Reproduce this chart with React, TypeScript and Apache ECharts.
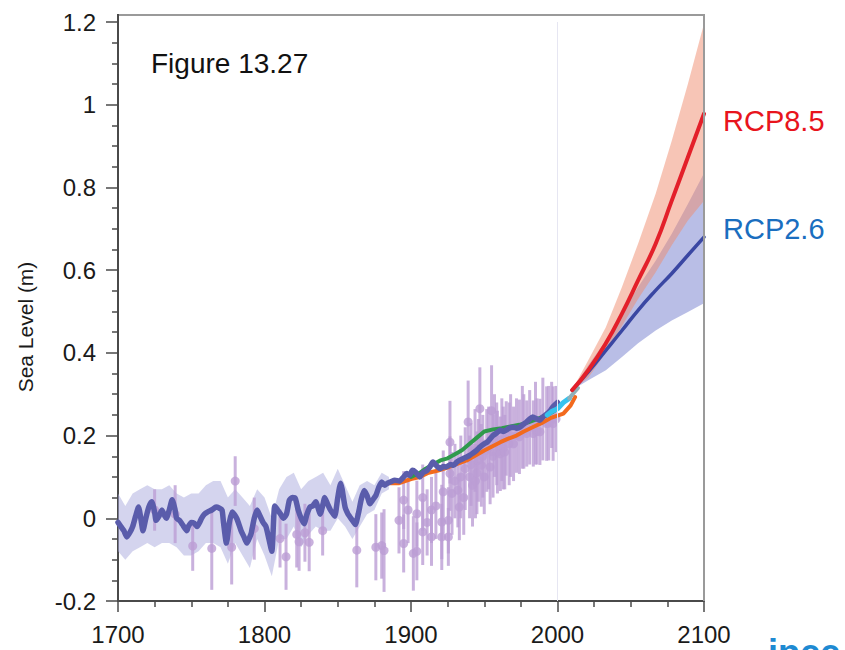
import React, { useEffect, useRef } from "react";
import * as echarts from "echarts";

// ---------- axes ----------
const xMin = 1700;
const xMax = 2100;
const xStep = 100;
const yMin = -0.2;
const yMax = 1.2;
const yStep = 0.2;

// ---------- reconstructed sea level (thick blue-purple line) ----------
const reconYears = [
  1700, 1702, 1704, 1706, 1708, 1710, 1712, 1714, 1716, 1717, 1719, 1721, 1723, 1725, 1726, 1728, 1730, 1732,
  1733, 1735, 1737, 1739, 1740, 1742, 1744, 1747, 1748, 1750, 1752, 1754, 1756, 1757, 1759, 1761, 1764, 1767,
  1769, 1771, 1772, 1774, 1776, 1778, 1781, 1784, 1786, 1788, 1790, 1791, 1793, 1795, 1797, 1799, 1801, 1803,
  1805, 1807, 1809, 1811, 1813, 1815, 1817, 1819, 1821, 1823, 1825, 1827, 1829, 1831, 1833, 1835, 1837, 1838,
  1840, 1841, 1843, 1845, 1847, 1848, 1850, 1852, 1853, 1855, 1857, 1858, 1860, 1862, 1864, 1866, 1868, 1870,
  1872, 1874, 1876, 1878, 1880, 1882, 1884, 1886, 1889, 1892, 1895, 1897, 1899, 1901, 1903, 1906, 1908, 1911,
  1913, 1915, 1918, 1920, 1922, 1924, 1927, 1929, 1931, 1933, 1936, 1938, 1940, 1942, 1945, 1947, 1950, 1952,
  1954, 1956, 1958, 1961, 1963, 1965, 1967, 1970, 1972, 1974, 1977, 1979, 1981, 1983, 1986, 1988, 1990, 1993,
  1995, 1997, 2000,
];
const reconValues = [
  -0.01, -0.02, -0.03, -0.045, -0.035, -0.02, 0.005, 0.027, -0.01, -0.03, 0.0, 0.027, 0.04, 0.015, -0.005, 0.005, 0.02, 0.005,
  0.0, 0.02, 0.045, 0.02, 0.0, -0.005, -0.015, -0.03, -0.02, -0.01, -0.012, -0.02, -0.008, 0.0, 0.01, 0.015, 0.02, 0.027,
  0.025, 0.02, -0.01, -0.06, -0.01, 0.015, 0.0, -0.03, -0.045, -0.06, -0.045, -0.035, 0.0, 0.02, 0.005, -0.01, -0.02, -0.05,
  -0.08, 0.03, 0.02, 0.01, 0.0, 0.01, 0.044, 0.05, 0.048, 0.02, 0.0, -0.013, 0.01, 0.027, 0.03, 0.04, 0.02, 0.01,
  0.035, 0.05, 0.035, 0.02, 0.01, 0.005, 0.05, 0.085, 0.07, 0.027, 0.01, 0.005, -0.005, -0.015, 0.01, 0.045, 0.067, 0.055,
  0.035, 0.045, 0.055, 0.075, 0.088, 0.08, 0.085, 0.088, 0.092, 0.09, 0.1, 0.108, 0.104, 0.116, 0.112, 0.1, 0.11, 0.116,
  0.125, 0.136, 0.125, 0.12, 0.125, 0.124, 0.13, 0.128, 0.135, 0.14, 0.145, 0.148, 0.152, 0.157, 0.165, 0.172, 0.18, 0.184,
  0.192, 0.2, 0.205, 0.213, 0.21, 0.213, 0.218, 0.22, 0.218, 0.22, 0.228, 0.233, 0.24, 0.245, 0.24, 0.237, 0.245, 0.253,
  0.26, 0.27, 0.28,
];

// uncertainty band of the reconstruction
const bandYears = [
  1700, 1705, 1710, 1715, 1720, 1725, 1730, 1735, 1740, 1745, 1750, 1755, 1760, 1765, 1770, 1775, 1780, 1785, 1790,
  1795, 1800, 1805, 1810, 1815, 1820, 1825, 1830, 1835, 1840, 1845, 1850, 1855, 1860, 1865, 1870, 1875, 1880, 1885,
];
const bandLower = [
  -0.08, -0.1, -0.08, -0.07, -0.06, -0.07, -0.06, -0.06, -0.07, -0.09, -0.09, -0.08, -0.06, -0.06, -0.07, -0.11, -0.06, -0.09, -0.12,
  -0.05, -0.09, -0.14, -0.05, -0.05, -0.02, -0.07, -0.04, -0.02, -0.03, -0.03, 0.0, -0.02, -0.05, -0.02, 0.01, 0.02, 0.06, 0.07,
];
const bandUpper = [
  0.06, 0.03, 0.06, 0.07, 0.08, 0.07, 0.07, 0.08, 0.06, 0.05, 0.06, 0.06, 0.08, 0.09, 0.09, 0.05, 0.07, 0.05, 0.03,
  0.07, 0.05, 0.0, 0.07, 0.1, 0.11, 0.07, 0.09, 0.1, 0.11, 0.08, 0.12, 0.08, 0.04, 0.08, 0.09, 0.08, 0.11, 0.1,
];

// other records
const orangeYears = [1880, 1885, 1892, 1900, 1906, 1912, 1918, 1926, 1932, 1938, 1944, 1950, 1956, 1961, 1966, 1972, 1977, 1983, 1989, 1995, 2000, 2004, 2009, 2012];
const orangeValues = [0.08, 0.085, 0.085, 0.095, 0.1, 0.11, 0.115, 0.124, 0.132, 0.14, 0.152, 0.164, 0.175, 0.184, 0.192, 0.2, 0.21, 0.22, 0.23, 0.242, 0.248, 0.253, 0.273, 0.293];

const greenYears = [1900, 1906, 1910, 1915, 1920, 1925, 1930, 1935, 1940, 1945, 1950, 1956, 1962, 1968, 1974, 1980, 1986, 1992, 1998];
const greenValues = [0.1, 0.11, 0.12, 0.13, 0.14, 0.145, 0.155, 0.165, 0.18, 0.195, 0.21, 0.215, 0.218, 0.222, 0.226, 0.232, 0.24, 0.248, 0.26];

const cyanYears = [1993, 1996, 2000, 2004, 2008];
const cyanValues = [0.25, 0.258, 0.265, 0.28, 0.29];

const linkYears = [2008, 2011, 2014];
const linkValues = [0.29, 0.303, 0.315];

// individual data points with error bars
const obsYears = [
  1725, 1739, 1751, 1764, 1777.6, 1780, 1793, 1810.6, 1814.7, 1822, 1823.6, 1827.6, 1830.5, 1839.7, 1863, 1876, 1880,
  1881.6, 1891.8, 1895, 1895, 1898, 1901.6, 1904, 1904, 1908, 1908, 1911, 1914, 1914, 1917, 1921, 1921, 1922, 1925.5, 1925.5,
  1926.6, 1926.6, 1928, 1930, 1932, 1933, 1934, 1936, 1937, 1939, 1940, 1941, 1942, 1943.7, 1944, 1945, 1946, 1947, 1948,
  1949, 1950, 1951.7, 1953, 1954, 1955, 1956, 1957, 1958.5, 1959, 1961, 1962, 1963, 1964, 1965, 1967, 1968, 1970, 1972,
  1974, 1976, 1977, 1979, 1981, 1983.5, 1985, 1986, 1988, 1990, 1992.6, 1994, 1996, 1997, 1999,
];
const obsValues = [
  0.02, 0.01, -0.067, -0.073, -0.07, 0.09, -0.025, -0.049, -0.093, -0.039, -0.057, -0.035, -0.058, -0.03, -0.077, -0.07, -0.066,
  -0.078, -0.005, 0.044, -0.061, 0.02, -0.085, 0.011, -0.08, -0.033, 0.05, -0.01, 0.02, -0.045, 0.03, -0.009, -0.045, 0.064, -0.005, -0.045,
  0.184, 0.108, 0.06, 0.09, 0.068, 0.027, 0.1, 0.05, 0.12, 0.233, 0.1, 0.13, 0.08, 0.164, 0.09, 0.11, 0.14, 0.265, 0.128,
  0.15, 0.1, 0.164, 0.17, 0.124, 0.26, 0.15, 0.2, 0.18, 0.16, 0.156, 0.19, 0.17, 0.16, 0.193, 0.18, 0.2, 0.18, 0.2,
  0.197, 0.22, 0.21, 0.205, 0.22, 0.205, 0.23, 0.21, 0.209, 0.24, 0.229, 0.23, 0.25, 0.229, 0.24,
];
const obsErrors = [
  0.05, 0.07, 0.06, 0.1, 0.09, 0.06, 0.075, 0.07, 0.08, 0.08, 0.07, 0.07, 0.07, 0.06, 0.09, 0.08, 0.08,
  0.1, 0.08, 0.07, 0.07, 0.08, 0.09, 0.08, 0.07, 0.08, 0.08, 0.08, 0.08, 0.07, 0.08, 0.09, 0.08, 0.1, 0.08, 0.07,
  0.1, 0.09, 0.1, 0.09, 0.09, 0.08, 0.1, 0.09, 0.1, 0.1, 0.1, 0.1, 0.1, 0.1, 0.09, 0.1, 0.1, 0.1, 0.1,
  0.1, 0.09, 0.1, 0.1, 0.09, 0.11, 0.1, 0.1, 0.1, 0.1, 0.09, 0.1, 0.1, 0.09, 0.09, 0.1, 0.1, 0.09, 0.09,
  0.09, 0.1, 0.09, 0.08, 0.09, 0.08, 0.1, 0.08, 0.08, 0.1, 0.09, 0.09, 0.08, 0.09, 0.08,
];

// projections
const projYears = [2010, 2021, 2033, 2044, 2055, 2067, 2078, 2089, 2100];
const rcp85Median = [0.31, 0.358, 0.423, 0.495, 0.575, 0.664, 0.768, 0.873, 0.978];
const rcp85Upper = [0.31, 0.382, 0.462, 0.559, 0.664, 0.785, 0.913, 1.05, 1.196];
const rcp85Lower = [0.31, 0.34, 0.4, 0.465, 0.53, 0.595, 0.66, 0.72, 0.768];
const rcp26Median = [0.31, 0.354, 0.406, 0.454, 0.503, 0.551, 0.592, 0.636, 0.68];
const rcp26Upper = [0.31, 0.37, 0.43, 0.495, 0.559, 0.623, 0.688, 0.76, 0.834];
const rcp26Lower = [0.31, 0.334, 0.358, 0.39, 0.423, 0.454, 0.478, 0.499, 0.52];

const FONT = "'Liberation Sans', Arial, Helvetica, sans-serif";

const pairs = (xs: number[], ys: number[]) => xs.map((x, i) => [x, ys[i]]);

function bandSeries(xs: number[], lo: number[], hi: number[], fill: string) {
  return {
    type: "custom",
    silent: true,
    clip: true,
    data: [[xs[0], hi[0]]],
    encode: { x: 0, y: 1 },
    renderItem: (_params: any, api: any) => {
      const top = xs.map((x, i) => api.coord([x, hi[i]]));
      const bot = xs.map((x, i) => api.coord([x, lo[i]])).reverse();
      return {
        type: "polygon",
        shape: { points: top.concat(bot) },
        style: { fill, stroke: "none" },
      };
    },
  };
}

function lineSeries(xs: number[], ys: number[], color: string, width: number, smooth: any = false, extra: any = {}) {
  return {
    type: "line",
    data: pairs(xs, ys),
    showSymbol: false,
    symbol: "none",
    smooth,
    silent: true,
    lineStyle: { color, width, cap: "round", join: "round" },
    ...extra,
  };
}

export default function App() {
  const ref = useRef<HTMLDivElement>(null);

  useEffect(() => {
    if (!ref.current) return;
    const chart = echarts.init(ref.current, undefined, { renderer: "svg" });
    const obsData = obsYears.map((x, i) => [x, obsValues[i], obsErrors[i]]);

    chart.setOption({
      animation: false,
      backgroundColor: "#ffffff",
      grid: { left: 118, right: 141, top: 22, bottom: 49, containLabel: false },
      xAxis: {
        type: "value",
        min: xMin,
        max: xMax,
        interval: xStep,
        axisLine: { show: true, onZero: false, lineStyle: { color: "#4a4a4a", width: 2 } },
        axisTick: { show: true, length: 11, lineStyle: { color: "#4a4a4a", width: 1.5 } },
        minorTick: { show: true, splitNumber: 4, length: 6, lineStyle: { color: "#4a4a4a", width: 1.5 } },
        splitLine: { show: false },
        axisLabel: {
          color: "#1a1a1a",
          fontSize: 24,
          fontFamily: FONT,
          margin: 21,
          showMinLabel: true,
          showMaxLabel: true,
          formatter: (v: number) => String(v),
        },
      },
      yAxis: {
        type: "value",
        min: yMin,
        max: yMax,
        interval: yStep,
        axisLine: { show: true, onZero: false, lineStyle: { color: "#4a4a4a", width: 2 } },
        axisTick: { show: true, length: 12, lineStyle: { color: "#4a4a4a", width: 1.5 } },
        minorTick: { show: true, splitNumber: 4, length: 6, lineStyle: { color: "#4a4a4a", width: 1.5 } },
        splitLine: { show: false },
        axisLabel: {
          color: "#1a1a1a",
          fontSize: 24,
          fontFamily: FONT,
          margin: 22,
          formatter: (v: number) => String(+v.toFixed(1)),
        },
      },
      graphic: [
        {
          type: "polyline",
          z: 100,
          silent: true,
          shape: { points: [[118, 22], [118, 15], [704, 15], [704, 601]] },
          style: { stroke: "#9a9a9a", lineWidth: 2, fill: "none" },
        },
        {
          type: "line",
          z: 101,
          silent: true,
          shape: { x1: 118, y1: 14, x2: 118, y2: 23 },
          style: { stroke: "#4a4a4a", lineWidth: 2 },
        },
        {
          type: "text",
          x: 151,
          y: 63,
          style: { text: "Figure 13.27", fontSize: 28, fontFamily: FONT, fill: "#111111", textAlign: "left", textVerticalAlign: "middle" },
        },
        {
          type: "text",
          x: 723,
          y: 121,
          style: { text: "RCP8.5", fontSize: 29, fontFamily: FONT, fill: "#e8141c", textAlign: "left", textVerticalAlign: "middle" },
        },
        {
          type: "text",
          x: 723,
          y: 229,
          style: { text: "RCP2.6", fontSize: 29, fontFamily: FONT, fill: "#1a6ebf", textAlign: "left", textVerticalAlign: "middle" },
        },
        {
          type: "text",
          x: 25,
          y: 327,
          rotation: Math.PI / 2,
          style: { text: "Sea Level (m)", fontSize: 21, fontFamily: FONT, fill: "#1a1a1a", textAlign: "center", textVerticalAlign: "middle" },
        },
        {
          type: "text",
          x: 768,
          y: 670,
          style: { text: "ipcc", fontSize: 36, fontWeight: "bold", fontFamily: FONT, fill: "#1e8ad2", textAlign: "left", textVerticalAlign: "bottom" },
        },
      ],
      series: [
        bandSeries(bandYears, bandLower, bandUpper, "rgba(170,170,222,0.5)"),
        {
          type: "custom",
          silent: true,
          data: obsData,
          encode: { x: 0, y: 1 },
          renderItem: (_params: any, api: any) => {
            const x = api.value(0);
            const v = api.value(1);
            const e = api.value(2);
            const c = api.coord([x, v]);
            const t = api.coord([x, v + e]);
            const b = api.coord([x, v - e]);
            const col = "rgba(188,158,212,0.8)";
            return {
              type: "group",
              children: [
                { type: "line", shape: { x1: t[0], y1: t[1], x2: b[0], y2: b[1] }, style: { stroke: col, lineWidth: 3 } },
                { type: "circle", shape: { cx: c[0], cy: c[1], r: 4.5 }, style: { fill: col } },
              ],
            };
          },
        },
        lineSeries(orangeYears, orangeValues, "#f26a1e", 4, false, {
          markLine: {
            silent: true,
            symbol: ["none", "none"],
            label: { show: false },
            lineStyle: { color: "#e6e6f2", width: 1, type: "solid" },
            data: [{ xAxis: 2000 }],
          },
        }),
        lineSeries(greenYears, greenValues, "#2f9a4c", 4),
        lineSeries(reconYears, reconValues, "#5a5cab", 5.5, 0.2),
        lineSeries(cyanYears, cyanValues, "#36c3ee", 5),
        lineSeries(linkYears, linkValues, "#8fb1b9", 4),
        bandSeries(projYears, rcp26Lower, rcp26Upper, "rgba(100,110,200,0.45)"),
        lineSeries(projYears, rcp26Median, "#3a47a3", 3.5, true),
        bandSeries(projYears, rcp85Lower, rcp85Upper, "rgba(240,140,110,0.5)"),
        lineSeries(projYears, rcp85Median, "#e3202a", 4, true),
      ],
    });

    return () => chart.dispose();
  }, []);

  return (
    <div
      ref={ref}
      style={{ position: "fixed", left: 0, top: 0, width: 845, height: 650, background: "#fff" }}
    />
  );
}
